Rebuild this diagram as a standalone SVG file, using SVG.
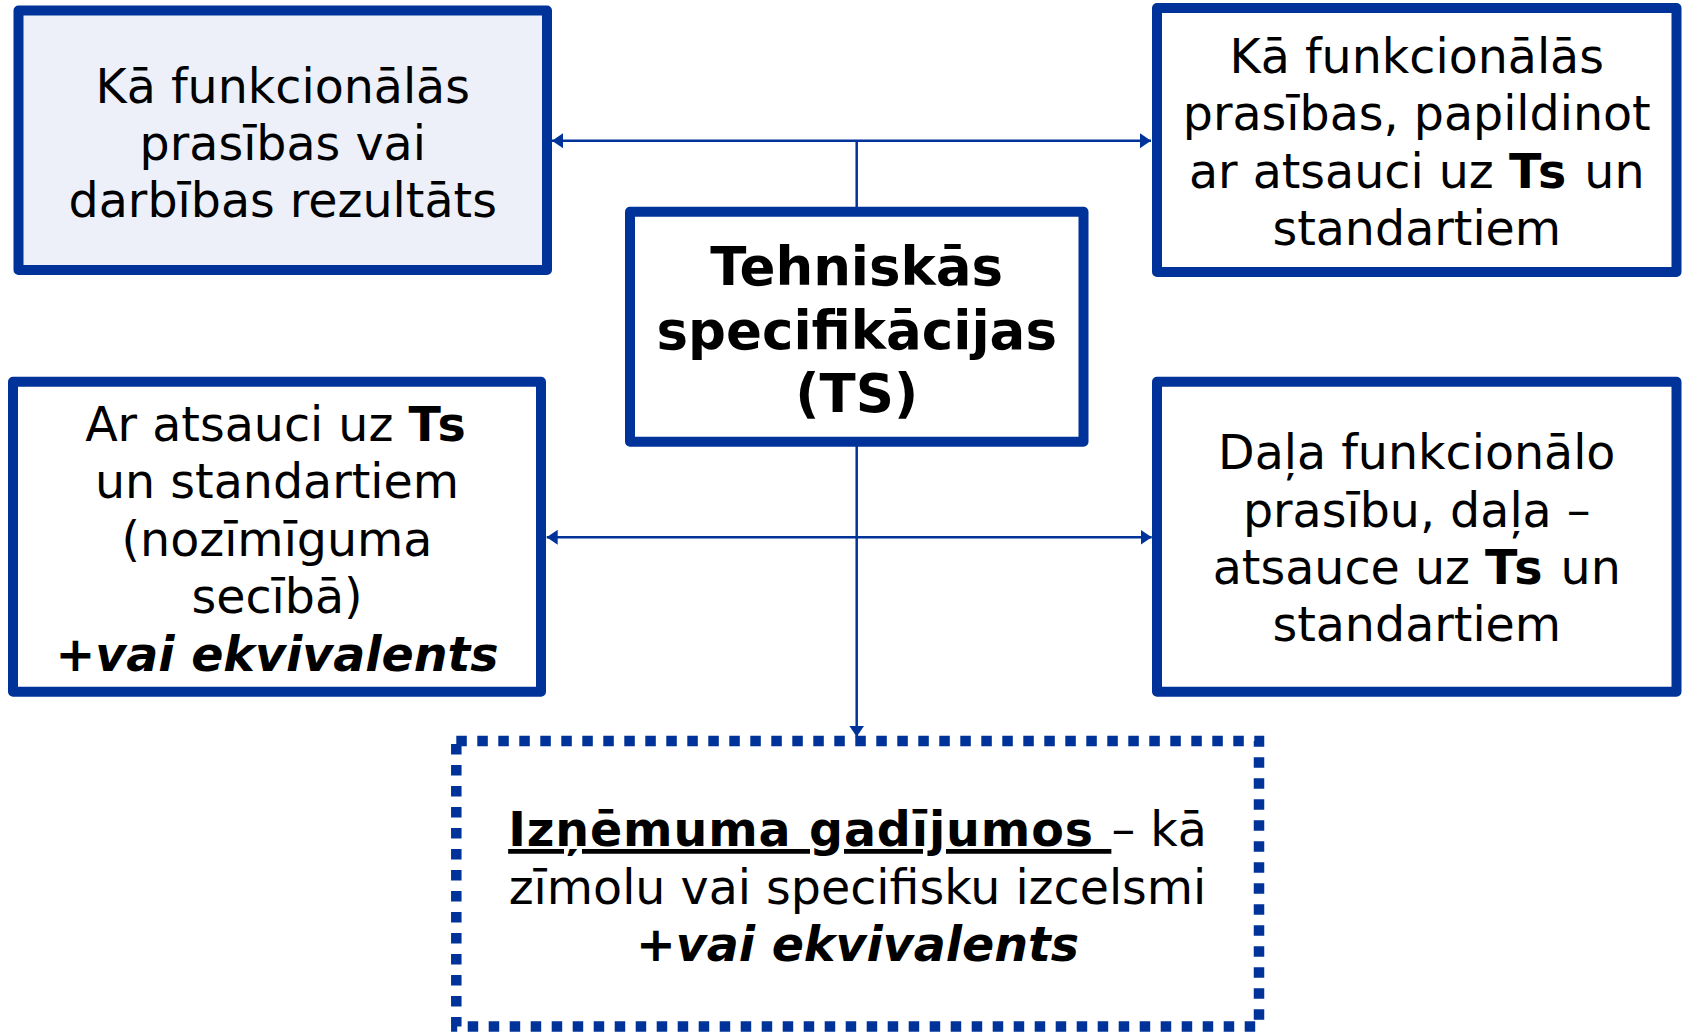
<svg xmlns="http://www.w3.org/2000/svg" width="1682" height="1032" viewBox="0 0 1682 1032">
  <style>
    .box { fill: #ffffff; stroke: #003399; stroke-width: 10; stroke-linejoin: round; }
    .shaded { fill: #EDF0F8; }
    .dotted { fill: #ffffff; stroke: #003399; stroke-width: 10.5; stroke-dasharray: 10.5 10.5; }
    .t { font-family: "DejaVu Sans", Verdana, sans-serif; font-size: 47.5px; fill: #000000; text-anchor: middle; }
    .title { font-family: "DejaVu Sans", Verdana, sans-serif; font-size: 53px; font-weight: bold; fill: #000000; text-anchor: middle; }
    .b { font-weight: bold; }
    .ts { font-weight: bold; letter-spacing: 3px; }
    .bi { font-weight: bold; font-style: italic; }
    .conn { fill: none; stroke: #003399; stroke-width: 2.5; }
  </style>
  <defs>
    <marker id="arrow" viewBox="0 0 11 15" refX="11" refY="7.5" markerWidth="11" markerHeight="15" markerUnits="userSpaceOnUse" orient="auto-start-reverse">
      <path d="M0,0 L11,7.5 L0,15 z" fill="#003399"/>
    </marker>
  </defs>

  <g id="connectors">
    <path class="conn" d="M552,140.7 H1151" marker-start="url(#arrow)" marker-end="url(#arrow)"/>
    <path class="conn" d="M856.7,207 V140.7"/>
    <path class="conn" d="M546.7,537.3 H1151.7" marker-start="url(#arrow)" marker-end="url(#arrow)"/>
    <path class="conn" d="M856.7,446 V736.7" marker-end="url(#arrow)"/>
  </g>

  <g id="node-functional">
    <rect class="box shaded" x="18.5" y="10.5" width="528.5" height="259.5"/>
    <text class="t" x="282.75" y="102.5">Kā funkcionālās</text>
    <text class="t" x="282.75" y="159.5">prasības vai</text>
    <text class="t" x="282.75" y="216.5">darbības rezultāts</text>
  </g>

  <g id="node-functional-ts">
    <rect class="box" x="1157" y="8" width="519.5" height="264"/>
    <text class="t" x="1416.75" y="73">Kā funkcionālās</text>
    <text class="t" x="1416.75" y="130">prasības, papildinot</text>
    <text class="t" x="1416.75" y="187.5">ar atsauci uz <tspan class="ts">Ts</tspan> un</text>
    <text class="t" x="1416.75" y="245">standartiem</text>
  </g>

  <g id="node-ts">
    <rect class="box" x="630" y="211.7" width="453.5" height="230"/>
    <text class="title" x="856.75" y="285">Tehniskās</text>
    <text class="title" x="856.75" y="348.5">specifikācijas</text>
    <text class="title" x="856.75" y="412">(TS)</text>
  </g>

  <g id="node-reference">
    <rect class="box" x="13" y="381.7" width="528" height="310"/>
    <text class="t" x="277" y="440.5">Ar atsauci uz <tspan class="ts">Ts</tspan></text>
    <text class="t" x="277" y="498">un standartiem</text>
    <text class="t" x="277" y="555.5">(nozīmīguma</text>
    <text class="t" x="277" y="613">secībā)</text>
    <text class="t" x="277" y="670.5"><tspan class="b">+</tspan><tspan class="bi">vai ekvivalents</tspan></text>
  </g>

  <g id="node-mixed">
    <rect class="box" x="1157" y="381.7" width="519.5" height="310"/>
    <text class="t" x="1416.75" y="469">Daļa funkcionālo</text>
    <text class="t" x="1416.75" y="526.5">prasību, daļa –</text>
    <text class="t" x="1416.75" y="583.5">atsauce uz <tspan class="ts">Ts</tspan> un</text>
    <text class="t" x="1416.75" y="641">standartiem</text>
  </g>

  <g id="node-exception">
    <rect class="dotted" x="456.3" y="741" width="802.7" height="285.5"/>
    <text class="t" x="857.5" y="846"><tspan class="b" letter-spacing="0.9" text-decoration="underline">Izņēmuma gadījumos </tspan>– kā</text>
    <text class="t" x="857.5" y="903.5">zīmolu vai specifisku izcelsmi</text>
    <text class="t" x="857.5" y="961"><tspan class="b">+</tspan><tspan class="bi">vai ekvivalents</tspan></text>
  </g>
</svg>
